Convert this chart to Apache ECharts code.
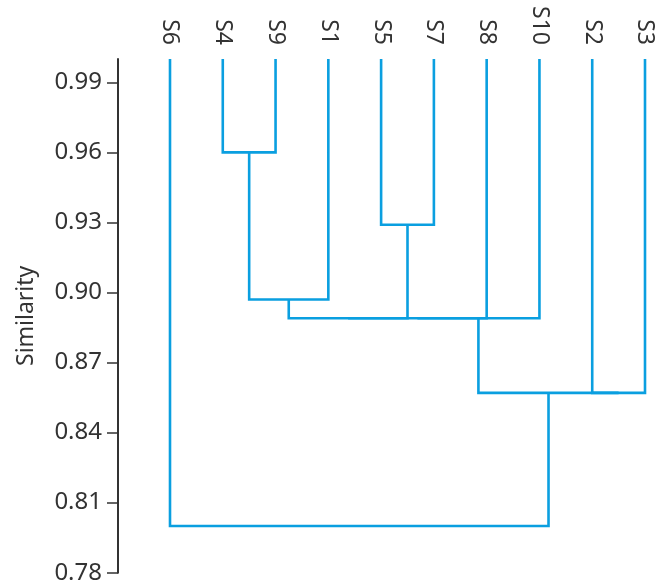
<!DOCTYPE html>
<html>
<head>
<meta charset="utf-8">
<script src="https://cdn.jsdelivr.net/npm/echarts@6/dist/echarts.min.js"></script>
<style>html,body{margin:0;padding:0;background:#fff}#c{width:669px;height:587px}</style>
</head>
<body>
<div id="c"></div>
<script>
// Leaves in display order (left to right)
const leaves = ['S6', 'S4', 'S9', 'S1', 'S5', 'S7', 'S8', 'S10', 'S2', 'S3'];
const leafHeight = 1.0;
// Merges: each joins two nodes (leaf name or earlier merge "#k") at a similarity
const mergeLeft   = ['S4', 'S5', '#0', '#2', '#3', '#4', 'S2', '#5', 'S6'];
const mergeRight  = ['S9', 'S7', 'S1', '#1', 'S8', 'S10', 'S3', '#6', '#7'];
const mergeHeight = [0.960, 0.929, 0.897, 0.889, 0.889, 0.889, 0.857, 0.857, 0.800];
// Y-axis ticks
const yTicks = [0.78, 0.81, 0.84, 0.87, 0.90, 0.93, 0.96, 0.99];

// Resolve node positions in data space (leaf index / cluster midpoint)
const nodePos = {};
leaves.forEach((n, i) => { nodePos[n] = [i, leafHeight]; });
const segs = [];
for (let k = 0; k < mergeHeight.length; k++) {
  const a = nodePos[mergeLeft[k]], b = nodePos[mergeRight[k]], h = mergeHeight[k];
  segs.push([a[0], a[1], b[0], b[1], h]);
  nodePos['#' + k] = [(a[0] + b[0]) / 2, h];
}

const txt = '#333';
const font = 'Noto Sans';
const chart = echarts.init(document.getElementById('c'), null, {renderer: 'canvas'});
chart.setOption({
  animation: false,
  grid: {left: 170, right: 24, top: 59, bottom: 14.3, containLabel: false},
  xAxis: {
    type: 'value', position: 'top', min: 0, max: leaves.length - 1, interval: 1,
    axisLine: {show: false, onZero: false}, axisTick: {show: false}, splitLine: {show: false},
    axisLabel: {
      rotate: 90, margin: 14, color: txt, fontFamily: font, fontSize: 23,
      formatter: v => leaves[v] || ''
    }
  },
  yAxis: {
    type: 'value', min: 0.78, max: 1.0, interval: 0.03, offset: 52,
    name: 'Similarity', nameLocation: 'middle', nameGap: 80, nameRotate: 90,
    nameTextStyle: {color: txt, fontFamily: font, fontSize: 23},
    axisLine: {show: true, onZero: false, lineStyle: {color: '#333', width: 2}},
    axisTick: {show: true, length: 11, customValues: yTicks, lineStyle: {color: '#333', width: 1.5}},
    axisLabel: {customValues: yTicks, margin: 16, color: txt, fontFamily: font, fontSize: 24,
      formatter: v => v.toFixed(2)},
    splitLine: {show: false}
  },
  series: [{
    type: 'custom',
    coordinateSystem: 'cartesian2d',
    encode: {x: [0, 2], y: [1, 3, 4]},
    data: segs,
    renderItem: function (params, api) {
      const p1 = api.coord([api.value(0), api.value(1)]);
      const p2 = api.coord([api.value(0), api.value(4)]);
      const p3 = api.coord([api.value(2), api.value(4)]);
      const p4 = api.coord([api.value(2), api.value(3)]);
      return {
        type: 'polyline',
        shape: {points: [p1, p2, p3, p4]},
        style: {stroke: '#0a9fe0', lineWidth: 2.6, fill: null, lineJoin: 'miter', lineCap: 'butt'}
      };
    }
  }]
});
</script>
</body>
</html>
